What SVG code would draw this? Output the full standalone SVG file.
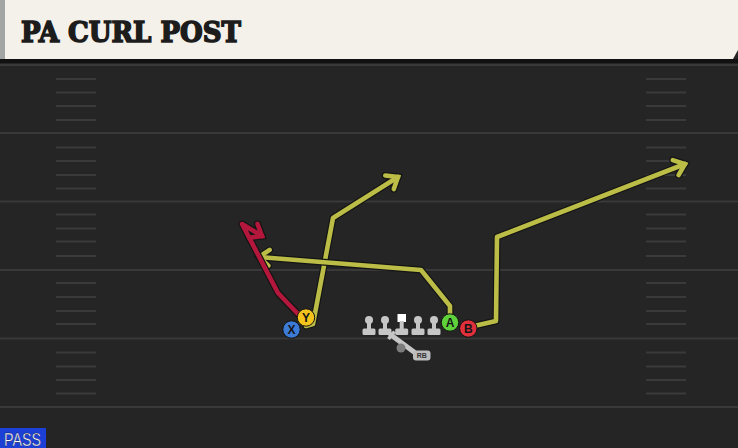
<svg xmlns="http://www.w3.org/2000/svg" width="738" height="448" viewBox="0 0 738 448">
<style>
.yard{stroke:#393939;stroke-width:2}
.hash{stroke:#3a3a3a;stroke-width:2}
.out{fill:none;stroke:#141414;stroke-width:7;stroke-linejoin:round;stroke-linecap:round}
.ylw{fill:none;stroke:#bbbd47;stroke-width:4.6;stroke-linejoin:round;stroke-linecap:round}
.red{fill:none;stroke:#b3183c;stroke-width:4.6;stroke-linejoin:round;stroke-linecap:round}
.lbl{font-family:"Liberation Sans",Arial,sans-serif;font-weight:bold;font-size:12px;fill:#151515;text-anchor:middle}
.ol{fill:#c6c6c6}
</style>
<defs>
<marker id="mo" markerUnits="userSpaceOnUse" orient="auto" markerWidth="30" markerHeight="30" refX="0" refY="0" viewBox="-15 -15 30 30" overflow="visible">
<path d="M-10,-8 L0,0 L-10,8" fill="none" stroke="#141414" stroke-width="7" stroke-linejoin="miter" stroke-linecap="round"/>
</marker>
<marker id="my" markerUnits="userSpaceOnUse" orient="auto" markerWidth="30" markerHeight="30" refX="0" refY="0" viewBox="-15 -15 30 30" overflow="visible">
<path d="M-10,-8 L0,0 L-10,8" fill="none" stroke="#bbbd47" stroke-width="4.6" stroke-linejoin="miter" stroke-linecap="round"/>
</marker>
<marker id="mr" markerUnits="userSpaceOnUse" orient="auto" markerWidth="30" markerHeight="30" refX="0" refY="0" viewBox="-15 -15 30 30" overflow="visible">
<path d="M-10,-8 L0,0 L-10,8" fill="none" stroke="#b3183c" stroke-width="4.6" stroke-linejoin="miter" stroke-linecap="round"/>
</marker>
</defs>

<!-- field -->
<rect x="0" y="0" width="738" height="448" fill="#252525"/>
<rect x="0" y="59" width="738" height="4" fill="#111111"/>
<g id="field">
<line class="yard" x1="0" y1="65" x2="738" y2="65"/>
<line class="yard" x1="0" y1="133" x2="738" y2="133"/>
<line class="yard" x1="0" y1="201.5" x2="738" y2="201.5"/>
<line class="yard" x1="0" y1="270" x2="738" y2="270"/>
<line class="yard" x1="0" y1="338.5" x2="738" y2="338.5"/>
<line class="yard" x1="0" y1="407" x2="738" y2="407"/>
<g id="hashes">
<path class="hash" d="M56,79H96M56,92.5H96M56,106H96M56,120H96M56,147.5H96M56,161H96M56,175H96M56,188.5H96M56,214.5H96M56,228.5H96M56,241.5H96M56,256H96M56,283H96M56,297H96M56,311H96M56,324H96M56,352.5H96M56,366.5H96M56,380H96M56,393.5H96"/>
<path class="hash" d="M646,79H686M646,92.5H686M646,106H686M646,120H686M646,147.5H686M646,161H686M646,175H686M646,188.5H686M646,214.5H686M646,228.5H686M646,241.5H686M646,256H686M646,283H686M646,297H686M646,311H686M646,324H686M646,352.5H686M646,366.5H686M646,380H686M646,393.5H686"/>
</g>
</g>

<!-- header -->
<g id="header">
<polygon points="0,0 738,0 738,50 733,59 0,59" fill="#f4f1ea"/>
<rect x="0" y="0" width="5" height="59" fill="#a3a5a3"/>
<text x="21" y="42" font-family="'DejaVu Serif',serif" font-weight="bold" font-size="28" fill="#1c1c1c" stroke="#1c1c1c" stroke-width="1.6" stroke-linejoin="miter" textLength="220" lengthAdjust="spacingAndGlyphs">PA CURL POST</text>
</g>

<!-- connectors / routes -->
<g id="routes">
<path class="out" d="M306,326 L313,324 L333,218 L398,177" marker-end="url(#mo)"/>
<path class="ylw" d="M306,326 L313,324 L333,218 L398,177" marker-end="url(#my)"/>
<path class="out" d="M450,314 L450,306 L421,270 L259,257" marker-end="url(#mo)"/>
<path class="ylw" d="M450,314 L450,306 L421,270 L259,257" marker-end="url(#my)"/>
<path class="out" d="M474,326 L496,321 L497,237 L685,164" marker-end="url(#mo)"/>
<path class="ylw" d="M474,326 L496,321 L497,237 L685,164" marker-end="url(#my)"/>
<path class="out" d="M298,314 L278,293 L242,224 L262,236" marker-end="url(#mo)"/>
<path class="red" d="M298,314 L278,293 L242,224 L262,236" marker-end="url(#mr)"/>
</g>

<!-- offensive line -->
<g id="line">
<g id="lt"><circle class="ol" cx="369" cy="320" r="4"/><rect class="ol" x="367" y="320" width="4" height="10"/><rect class="ol" x="362.5" y="328.5" width="13" height="6.5" rx="1.5"/></g>
<g id="lg"><circle class="ol" cx="385" cy="320" r="4"/><rect class="ol" x="383" y="320" width="4" height="10"/><rect class="ol" x="378.5" y="328.5" width="13" height="6.5" rx="1.5"/></g>
<g id="c"><rect x="397.5" y="314" width="8.5" height="8" fill="#ffffff"/><rect class="ol" x="399.7" y="321" width="4" height="9"/><rect class="ol" x="395.2" y="328.5" width="13" height="6.5" rx="1.5"/></g>
<g id="rg"><circle class="ol" cx="418" cy="320" r="4"/><rect class="ol" x="416" y="320" width="4" height="10"/><rect class="ol" x="411.5" y="328.5" width="13" height="6.5" rx="1.5"/></g>
<g id="rt"><circle class="ol" cx="434" cy="320" r="4"/><rect class="ol" x="432" y="320" width="4" height="10"/><rect class="ol" x="427.5" y="328.5" width="13" height="6.5" rx="1.5"/></g>
</g>

<g id="rb">
<line x1="391" y1="335" x2="414" y2="352" stroke="#c6c6c6" stroke-width="5" stroke-linecap="round"/>
<line x1="388.5" y1="339" x2="394.5" y2="331.5" stroke="#c6c6c6" stroke-width="3.5"/>
<circle cx="401" cy="348" r="4.5" fill="#7d7d7d"/>
<rect x="413" y="350.5" width="17.5" height="10" rx="3" fill="#bdbdbd"/>
<text x="421.7" y="358.3" font-family="'Liberation Sans',Arial,sans-serif" font-weight="bold" font-size="7" fill="#333" text-anchor="middle">RB</text>
</g>

<!-- receivers -->
<g id="X"><circle cx="291.5" cy="329.5" r="8.7" fill="#3c7bd6" stroke="#111" stroke-width="1"/><text class="lbl" x="291.5" y="333.8">X</text></g>
<g id="Y"><circle cx="306" cy="317.5" r="8.7" fill="#f4c41c" stroke="#111" stroke-width="1"/><text class="lbl" x="306" y="321.8">Y</text></g>
<g id="A"><circle cx="450" cy="322.5" r="8.7" fill="#5fd23b" stroke="#111" stroke-width="1"/><text class="lbl" x="450" y="326.8">A</text></g>
<g id="B"><circle cx="468.3" cy="328.5" r="8.7" fill="#e0303c" stroke="#111" stroke-width="1"/><text class="lbl" x="468.3" y="332.8">B</text></g>

<g id="pass">
<rect x="0" y="428" width="46" height="20" fill="#1c3fd6"/>
<text x="4" y="445.5" font-family="'Liberation Sans',Arial,sans-serif" font-size="18" fill="#ffffff" stroke="#0a1440" stroke-width="0.4" textLength="37" lengthAdjust="spacingAndGlyphs">PASS</text>
</g>
</svg>
